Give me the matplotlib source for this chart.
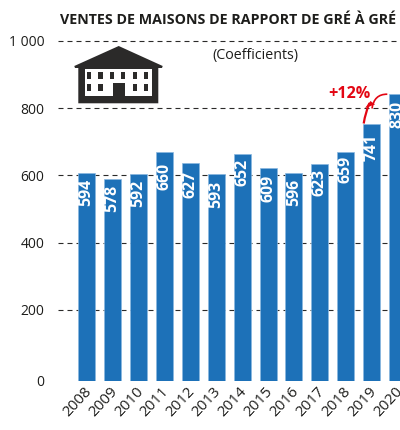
import matplotlib
matplotlib.use("Agg")
import matplotlib.pyplot as plt
from matplotlib.patches import Polygon, Rectangle, PathPatch
from matplotlib.path import Path
from matplotlib.transforms import ScaledTranslation

years = ["2008", "2009", "2010", "2011", "2012", "2013", "2014", "2015", "2016", "2017", "2018", "2019", "2020"]
# printed figures
labels = [594, 578, 592, 660, 627, 593, 652, 609, 596, 623, 659, 741, 830]
# bar tops as drawn, read against the gridlines (the printed bars sit a bit higher)
tops = [606, 590, 603, 671, 638, 604, 663, 621, 607, 634, 670, 753, 841]
grid_values = [200, 400, 600, 800, 1000]
grid_labels = ["200", "400", "600", "800", "1 000"]
baseline = -11  # bars start slightly under the zero of the grid scale

blue = "#1d71b8"
dark = "#2b2a29"
red = "#e30613"
plt.rcParams["font.family"] = ["Open Sans", "DejaVu Sans"]

W, H = 400, 430
fig = plt.figure(figsize=(W / 100, H / 100), dpi=100)

# axes from x=58.3 to the right edge, from y=381 up to y=30 (pixels)
ax = fig.add_axes([58.3 / W, (H - 381) / H, 1 - 58.3 / W, 351 / H])
step = 25.93
ax.set_xlim(-28.2 / step, 313.5 / step)
ax.set_ylim(baseline, (377.3 - 30) / 0.3365)
for s in ax.spines.values():
    s.set_visible(False)
ax.patch.set_alpha(0)

xs = list(range(len(years)))
ax.hlines(grid_values, *ax.get_xlim(), colors=dark, linewidth=0.8, linestyles=(0, (4.5, 3.6)), zorder=1)
ax.bar(xs, [t - baseline for t in tops], bottom=baseline, width=17 / step, color=blue,
       edgecolor="#8ab8e0", linewidth=0.5, zorder=2)

# gap in pixels between bar top and its figure, it changes from bar to bar in the original
label_gap = [5.5, 6.2, 5.9, 10.9, 8.2, 7.2, 4.8, 6.2, 5.5, 4.8, 4.5, 9.5, 6.9]
for x, t, v, g in zip(xs, tops, labels, label_gap):
    ax.annotate(str(v), (x, t), xytext=(0, -g * 0.72), textcoords="offset points", rotation=90,
                ha="center", va="top", color="white", fontsize=11.4, fontweight="bold", zorder=3)

ax.set_xticks(xs)
ax.set_xticklabels(years, rotation=47, ha="right", va="top", rotation_mode="anchor", fontsize=10.9, color="#1d1d1b")
ax.tick_params(axis="x", length=0, pad=2.5)
shift = ScaledTranslation(-3 / 100, 0.5 / 100, fig.dpi_scale_trans)
for lab in ax.get_xticklabels():
    lab.set_transform(lab.get_transform() + shift)
ax.set_yticks([baseline] + grid_values)
ax.set_yticklabels(["0"] + grid_labels, fontsize=10, color="#1d1d1b")
ax.tick_params(axis="y", length=0, pad=10)

# overlay in pixel coordinates for the title, house and arrow
ov = fig.add_axes([0, 0, 1, 1])
ov.set_xlim(0, W)
ov.set_ylim(H, 0)
ov.axis("off")

ov.text(228.5, 20, "VENTES DE MAISONS DE RAPPORT DE GRÉ À GRÉ", ha="center", va="center",
        fontsize=10.3, fontweight="bold", color="#1d1d1b")
ov.text(255, 56, "(Coefficients)", ha="center", va="center", fontsize=10.3, color="#1d1d1b")
ov.text(349.5, 94, "+12%", ha="center", va="center", fontsize=11.6, fontweight="bold", color=red)

# house
ov.add_patch(Polygon([(118.7, 46), (162.7, 66), (162, 68), (158.3, 68), (158.3, 103.3), (78.3, 103.3),
                      (78.3, 68), (75, 68), (74.3, 66)], closed=True, color=dark, lw=0))
ov.add_patch(Rectangle((85, 69.3), 66.7, 26.4, color="white", lw=0))
ov.add_patch(Rectangle((112.7, 82.7), 12.3, 13, color=dark, lw=0))
win_x = [89, 100.3, 112, 123, 134.7, 146]
for wx in win_x:
    ov.add_patch(Rectangle((wx - 2.2, 71.7), 4.4, 7, color=dark, lw=0))
for wx in [win_x[0], win_x[1], win_x[4], win_x[5]]:
    ov.add_patch(Rectangle((wx - 2.2, 84), 4.4, 7, color=dark, lw=0))

# +12% arrow
ov.add_patch(PathPatch(Path([(363.7, 123.5), (365.5, 112), (369.5, 103)], [1, 3, 3]), fill=False, ec=red, lw=1.6))
ov.add_patch(PathPatch(Path([(387.3, 94.2), (374, 94), (372, 108.5)], [1, 3, 3]), fill=False, ec=red, lw=1.2))
ov.add_patch(Polygon([(370.5, 101), (365, 108), (375, 104.5)], closed=True, color=red, lw=0))

fig.savefig("out.png", dpi=100)
